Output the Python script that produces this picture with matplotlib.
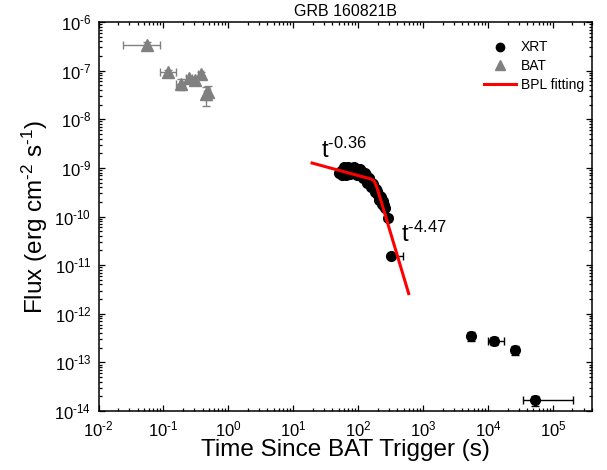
import numpy as np
import matplotlib
matplotlib.use('Agg')
import matplotlib.pyplot as plt
from matplotlib.lines import Line2D
from matplotlib.ticker import LogLocator, NullFormatter, FuncFormatter

plt.rcParams['font.family'] = 'Liberation Sans'
plt.rcParams['mathtext.fontset'] = 'custom'
plt.rcParams['mathtext.rm'] = 'Liberation Sans'
plt.rcParams['mathtext.it'] = 'Liberation Sans:italic'

# BAT points (time, time error low/high, flux, flux error)
bat_t = [0.055, 0.119, 0.186, 0.249, 0.305, 0.373, 0.451, 0.489]
bat_t_lo = [0.031, 0.031, 0.030, 0.030, 0.030, 0.030, 0.030, 0.020]
bat_t_hi = [0.033, 0.037, 0.030, 0.030, 0.030, 0.030, 0.020, 0.030]
bat_f = [3.4e-7, 9.4e-8, 5.4e-8, 6.9e-8, 6.4e-8, 8.5e-8, 3.3e-8, 3.65e-8]
bat_ferr = [0.5e-7, 1.0e-8, 1.4e-8, 1.0e-8, 1.0e-8, 1.0e-8, 1.4e-8, 1.2e-8]

# XRT points, early window mode
wt_t = [50.1, 52.0, 53.8, 56.0, 57.8, 60.0, 62.0, 64.0, 66.5, 68.9,
        70.0, 74.0, 76.0, 79.4, 82.2, 85.0, 88.3, 91.6, 95.0, 98.2,
        101.8, 105.0, 109.2, 113.2, 117.0, 121.6, 125.9, 128.0, 130.4, 135.2,
        138.0, 140.0, 145.2, 148.0, 150.3, 155.7, 158.0, 161.4, 167.1, 170.0,
        173.0, 179.5, 182.0, 185.8, 192.8, 196.0, 199.5, 206.5, 210.0, 214.3,
        221.8, 226.0, 230.1, 238.2, 242.0, 246.6, 255.9, 284.4]
wt_f = [7.70e-10, 8.00e-10, 8.47e-10, 7.00e-10, 8.88e-10, 1.02e-9, 9.31e-10, 7.30e-10, 8.88e-10, 9.77e-10,
        1.05e-9, 9.31e-10, 7.60e-10, 9.77e-10, 8.88e-10, 1.02e-9, 9.31e-10, 8.47e-10, 7.20e-10, 8.88e-10,
        8.07e-10, 9.40e-10, 8.47e-10, 7.70e-10, 6.20e-10, 7.34e-10, 6.68e-10, 7.80e-10, 7.00e-10, 6.08e-10,
        5.00e-10, 5.52e-10, 5.79e-10, 6.30e-10, 5.02e-10, 4.57e-10, 4.00e-10, 4.79e-10, 4.16e-10, 4.60e-10,
        3.78e-10, 3.44e-10, 3.20e-10, 3.61e-10, 2.98e-10, 3.30e-10, 2.71e-10, 2.46e-10, 2.20e-10, 2.58e-10,
        2.14e-10, 2.50e-10, 1.85e-10, 2.04e-10, 1.75e-10, 1.69e-10, 1.53e-10, 9.5e-11]

# XRT points, later photon counting mode
pc_t = [324.0, 5520.0, 12300.0, 26500.0, 53800.0]
pc_t_lo = [30.0, 500.0, 2370.0, 1500.0, 19500.0]
pc_t_hi = [160.0, 500.0, 5200.0, 1500.0, 148200.0]
pc_f = [1.57e-11, 3.5e-13, 2.8e-13, 1.8e-13, 1.66e-14]
pc_ferr = [1.5e-12, 0.7e-13, 0.5e-13, 0.35e-13, 0.4e-14]

# broken power-law fit
alpha1 = 0.36
alpha2 = 4.47
t_break = 180.0
f_break = 5.65e-10
omega = 6.0
t_fit_start = 19.5
t_fit_end = 600.0

fig = plt.figure(figsize=(6.07, 4.70), dpi=100)
ax = fig.add_axes([0.1623, 0.1255, 0.8130, 0.8277])

ax.errorbar(wt_t, wt_f, yerr=[f * 0.08 for f in wt_f], fmt='o', color='black',
            ms=7, elinewidth=1, capsize=3, capthick=1, zorder=3)
ax.errorbar(pc_t, pc_f, xerr=[pc_t_lo, pc_t_hi], yerr=pc_ferr, fmt='o', color='black',
            ms=7, elinewidth=1, capsize=3, capthick=1, zorder=3)
ax.errorbar(bat_t, bat_f, xerr=[bat_t_lo, bat_t_hi], yerr=bat_ferr, fmt='^', color='#808080',
            ms=8, elinewidth=1, capsize=3, capthick=1, zorder=3)

tt = np.logspace(np.log10(t_fit_start), np.log10(t_fit_end), 300)
x = tt / t_break
ff = f_break * (x ** (alpha1 * omega) + x ** (alpha2 * omega)) ** (-1.0 / omega)
ax.plot(tt, ff, color='red', lw=2.2, zorder=4)

ax.text(27, 1.57e-9, r'$\mathregular{t^{\text{-0.36}}}$', fontsize=17, ha='left', va='baseline')
ax.text(455, 2.95e-11, r'$\mathregular{t^{\text{-4.47}}}$', fontsize=17, ha='left', va='baseline')


def pow10(v, pos):
    e = int(round(np.log10(v)))
    if e < 0:
        return r'$\mathregular{10^{\text{-%d}}}$' % (-e)
    return r'$\mathregular{10^{%d}}$' % e


ax.set_xscale('log')
ax.set_yscale('log')
ax.set_xlim(1e-2, 4e5)
ax.set_ylim(1e-14, 1e-6)
for axis in (ax.xaxis, ax.yaxis):
    axis.set_major_locator(LogLocator(base=10, numticks=20))
    axis.set_minor_locator(LogLocator(base=10, subs=np.arange(2, 10), numticks=20))
    axis.set_major_formatter(FuncFormatter(pow10))
    axis.set_minor_formatter(NullFormatter())
ax.tick_params(which='both', direction='in', top=True, right=True, labelsize=12, width=0.9)
ax.tick_params(which='major', length=4.5)
ax.tick_params(which='minor', length=2.2)
ax.tick_params(axis='x', which='major', pad=6)
ax.tick_params(axis='y', which='major', pad=5)
for s in ax.spines.values():
    s.set_linewidth(1.1)

ax.set_xlabel('Time Since BAT Trigger (s)', fontsize=17.5, labelpad=0)
ax.set_ylabel(r'Flux (erg cm$^{\text{-2}}$ s$^{\text{-1}}$)', fontsize=17.5, labelpad=3)
ax.set_title('GRB 160821B', fontsize=11.5, pad=4)

handles = [Line2D([], [], ls='none', marker='o', color='black', ms=6),
           Line2D([], [], ls='none', marker='^', color='#808080', ms=7),
           Line2D([], [], color='red', lw=2.2)]
ax.legend(handles, ['XRT', 'BAT', 'BPL fitting'], loc='upper right', bbox_to_anchor=(1.0, 0.974),
          frameon=False, fontsize=10, handlelength=2.3, handletextpad=0.3,
          labelspacing=0.35, borderaxespad=0.2)

fig.savefig('out.png', dpi=100)
